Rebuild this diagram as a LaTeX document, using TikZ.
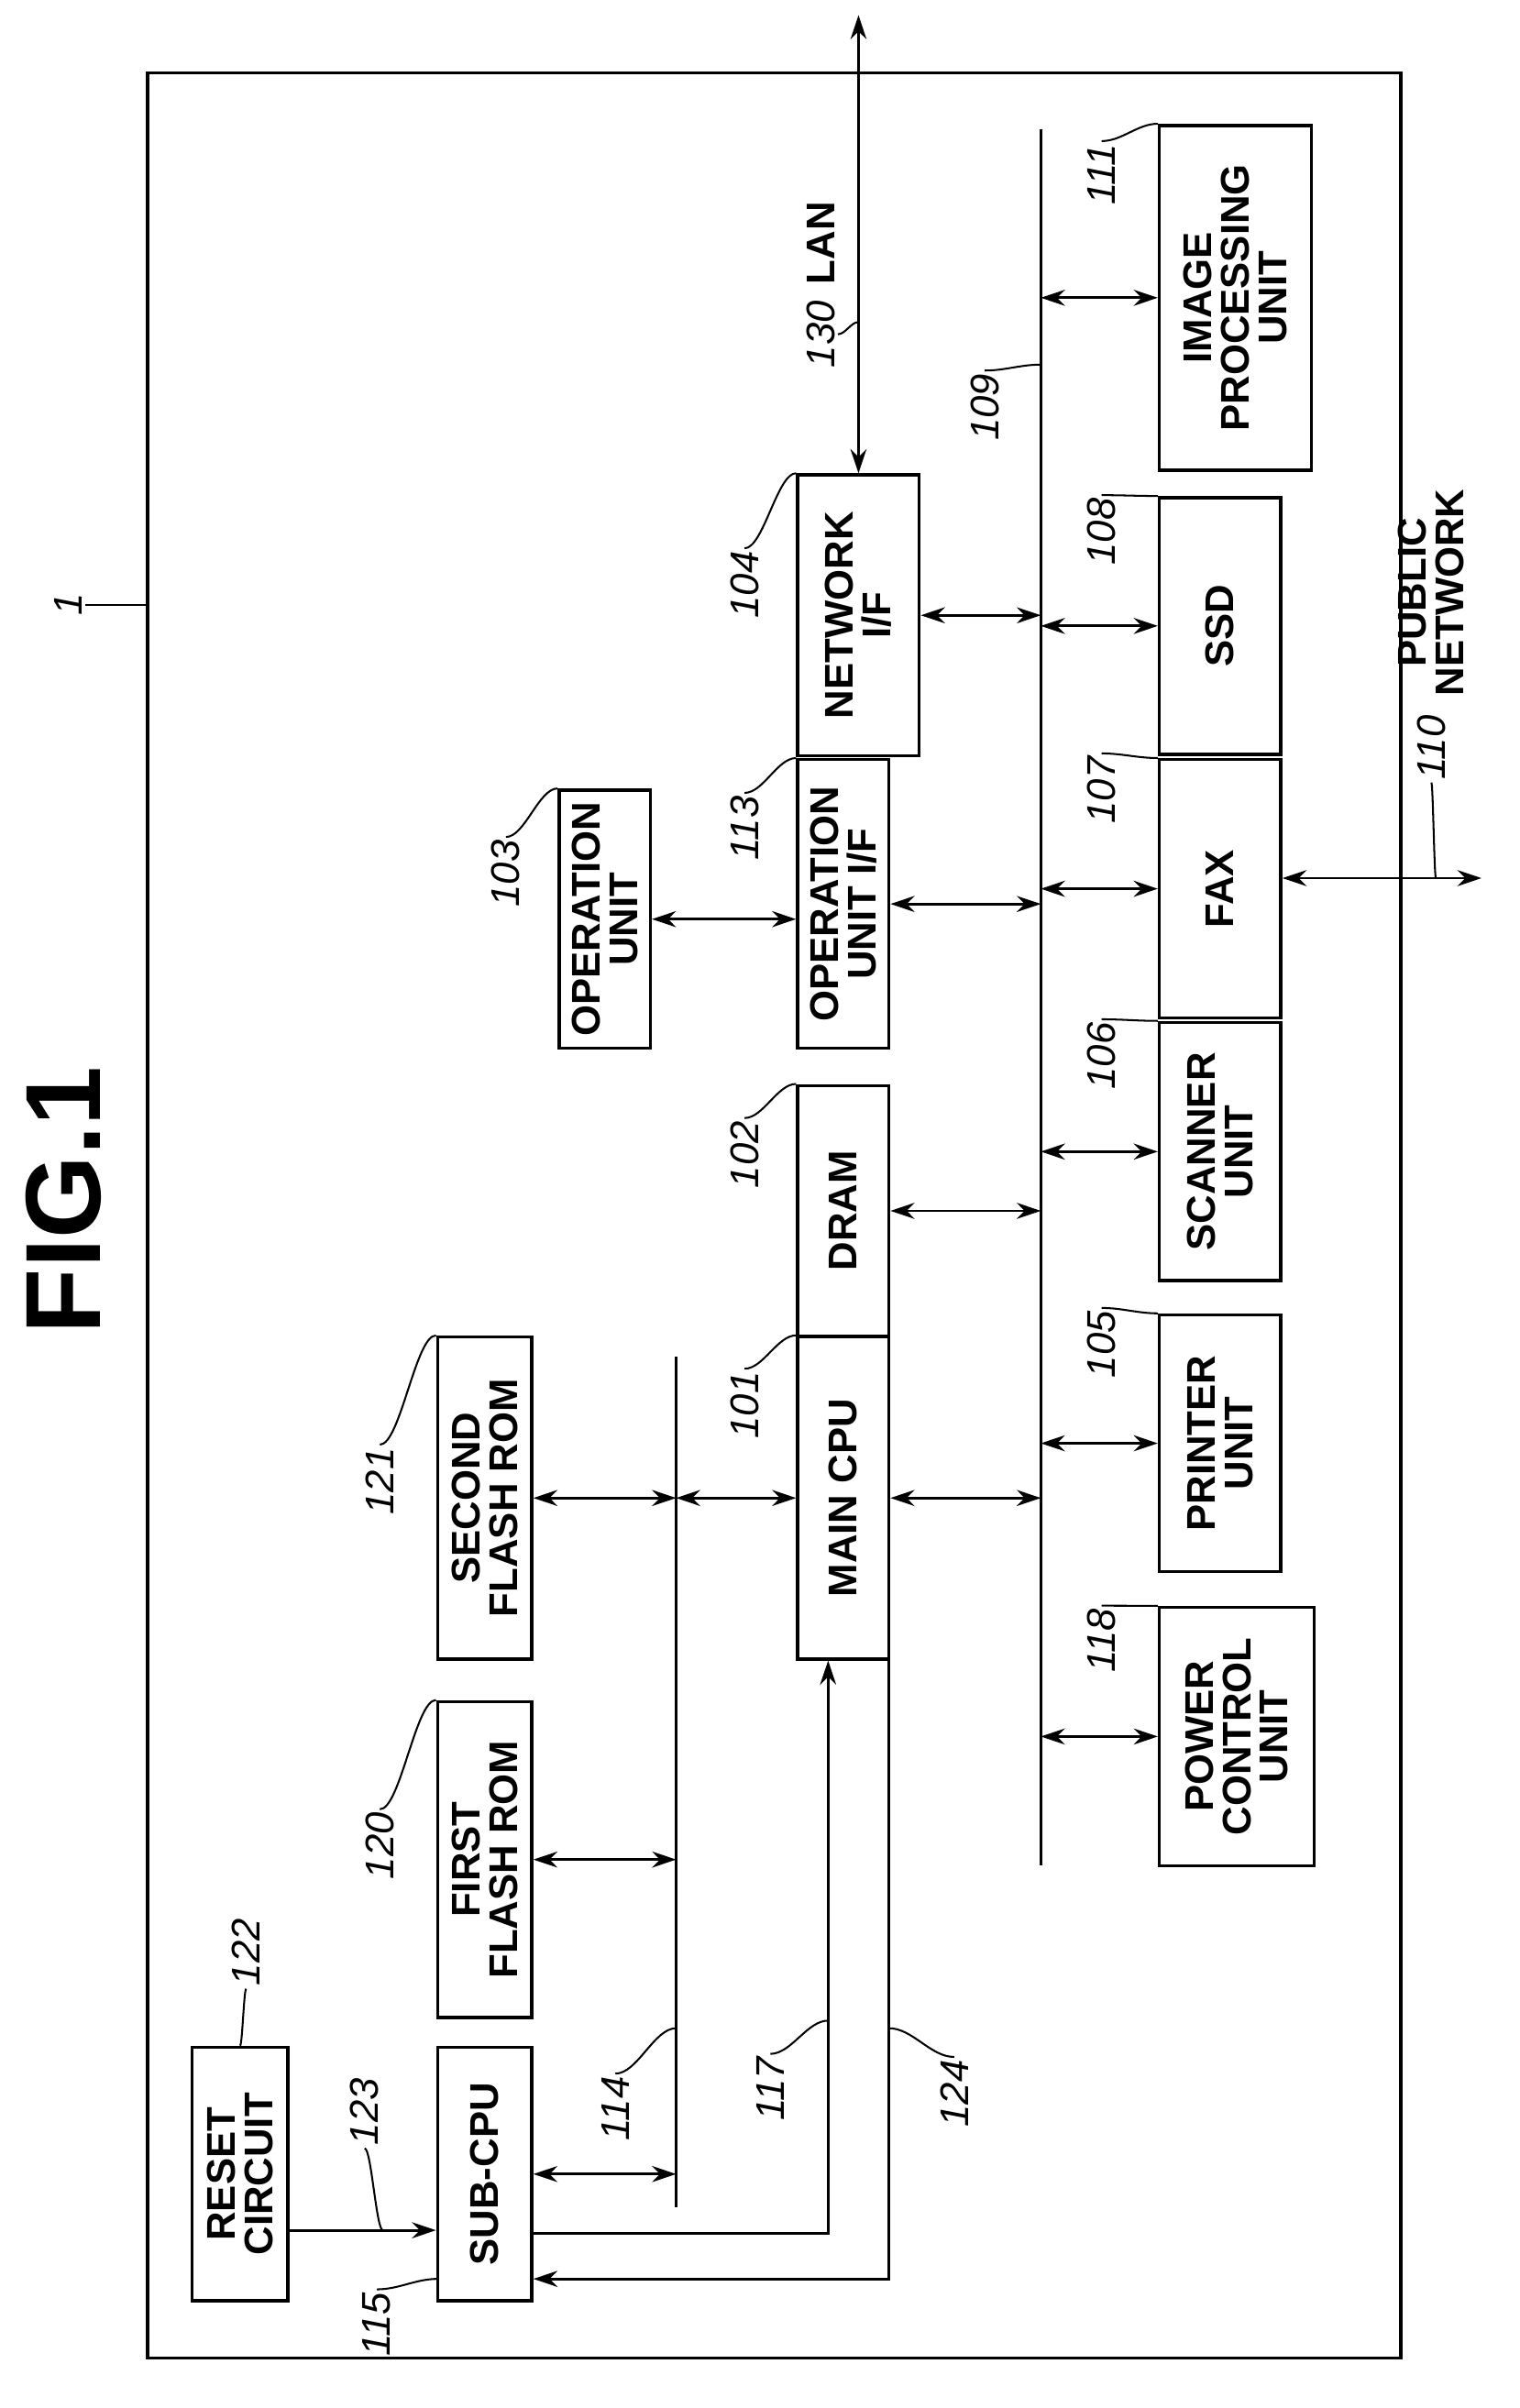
\documentclass[tikz,border=0pt]{standalone}
\usepackage{fontspec}
\setmainfont{Liberation Sans}
\usetikzlibrary{positioning, arrows.meta, calc}
\newcommand\boxfont{\bfseries\fontsize{15}{14}\selectfont}
\newcommand\labfont{\itshape\fontsize{15}{15}\selectfont}
\newcommand\leadline[2]{\draw[lead] (#1) cos ($(#1)!0.5!(#2)$) sin (#2);}
\tikzset{
	box/.style={draw, line width=1.2pt, rotate=90, font=\boxfont, align=center, inner sep=1pt},
	lab/.style={rotate=90, font=\labfont, inner sep=1pt},
	ar/.style={-{Stealth[length=9pt,width=6pt]}, line width=1pt},
	dar/.style={{Stealth[length=9pt,width=6pt]}-{Stealth[length=9pt,width=6pt]}, line width=1pt},
	lead/.style={line width=0.7pt},
}
\begin{document}
\begin{tikzpicture}[x=0.02cm, y=-0.02cm]
	\useasboundingbox (0,0) rectangle (1000,1585);
	\draw[line width=1.2pt] (97,48) rectangle (922,1552);
	\node[rotate=90, font=\bfseries\fontsize{40}{40}\selectfont] (fig) at (42,790) {FIG.1};

	% boxes
	\node[box, minimum width=3.34cm, minimum height=1.26cm] (reset) at (158,1431) {RESET\\CIRCUIT};
	\node[box, minimum width=3.34cm, minimum height=1.24cm] (subcpu) at (319,1431) {SUB-CPU};
	\node[box, minimum width=4.16cm, minimum height=1.24cm] (flash1) at (319,1224) {FIRST\\FLASH ROM};
	\node[box, minimum width=4.24cm, minimum height=1.24cm] (flash2) at (319,986) {SECOND\\FLASH ROM};
	\node[box, minimum width=4.24cm, minimum height=1.2cm] (main) at (555,986) {MAIN CPU};
	\node[box, minimum width=3.3cm, minimum height=1.2cm] (dram) at (555,797) {DRAM};
	\node[box, minimum width=3.4cm, minimum height=1.2cm] (opu) at (398,605) {OPERATION\\UNIT};
	\node[box, minimum width=3.8cm, minimum height=1.2cm] (opif) at (555,595) {OPERATION\\UNIT I/F};
	\node[box, minimum width=3.7cm, minimum height=1.6cm] (netif) at (565,405) {NETWORK\\I/F};
	\node[box, minimum width=3.4cm, minimum height=2.04cm] (power) at (814,1143) {POWER\\CONTROL\\UNIT};
	\node[box, minimum width=3.38cm, minimum height=1.6cm] (printer) at (803,950) {PRINTER\\UNIT};
	\node[box, minimum width=3.4cm, minimum height=1.6cm] (scanner) at (803,758) {SCANNER\\UNIT};
	\node[box, minimum width=3.4cm, minimum height=1.6cm] (fax) at (803,585) {FAX};
	\node[box, minimum width=3.38cm, minimum height=1.6cm] (ssd) at (803,412) {SSD};
	\node[box, minimum width=4.54cm, minimum height=2cm] (imgp) at (813,196) {IMAGE\\PROCESSING\\UNIT};

	% buses
	\coordinate (b109) at (685,85);
	\coordinate (b109e) at (685,1228);
	\coordinate (b114) at (445,893);
	\coordinate (b114e) at (445,1453);
	\draw[line width=1.2pt] (b109) -- (b109e);
	\draw[line width=1.2pt] (b114) -- (b114e);

	% connections
	\draw[dar] (subcpu.south) -- (subcpu.south -| b114);
	\draw[dar] (flash1.south) -- (flash1.south -| b114);
	\draw[dar] (flash2.south) -- (flash2.south -| b114);
	\draw[dar] (main.north -| b114) -- (main.north);
	\draw[dar] (main.south) -- (main.south -| b109);
	\draw[dar] (dram.south) -- (dram.south -| b109);
	\draw[dar] (opu.south) -- (opu.south -| opif.north);
	\draw[dar] (opif.south) -- (opif.south -| b109);
	\draw[dar] (netif.south) -- (netif.south -| b109);
	\foreach \n in {power, printer, scanner, fax, ssd, imgp}
		\draw[dar] (\n.north -| b109) -- (\n.north);

	\coordinate (c123) at (0,1468);
	\draw[ar] (reset.south |- c123) -- (subcpu.north |- c123);
	\coordinate (c117) at (545,1470);
	\draw[ar] (subcpu.south |- c117) -- (c117) -- (c117 |- main.west);
	\coordinate (c124) at (585,1500);
	\draw[ar] (c124 |- main.west) -- (c124) -- (subcpu.south |- c124);

	\coordinate (lanend) at (565,10);
	\draw[dar] (netif.east) -- (lanend);
	\coordinate (pubend) at (975,578);
	\draw[dar] (fax.south |- pubend) -- (pubend);

	% reference labels
	\node[lab] (l1) at (45,398) {1};
	\coordinate (t1) at (97,398);
	\leadline{l1.south}{t1}
	\node[lab] (l122) at (162,1285) {122};
	\leadline{l122.west}{reset.east}
	\node[lab] (l123) at (240,1390) {123};
	\coordinate (t123) at (252,1468);
	\leadline{l123.west}{t123}
	\node[lab] (l115) at (248,1530) {115};
	\coordinate (t115) at (288,1500);
	\leadline{l115.east}{t115}
	\node[lab] (l114) at (405,1388) {114};
	\coordinate (t114) at (445,1335);
	\leadline{l114.east}{t114}
	\node[lab] (l120) at (250,1215) {120};
	\leadline{l120.east}{flash1.north east}
	\node[lab] (l121) at (250,975) {121};
	\leadline{l121.east}{flash2.north east}
	\node[lab] (l101) at (490,925) {101};
	\leadline{l101.east}{main.north east}
	\node[lab] (l102) at (490,760) {102};
	\leadline{l102.east}{dram.north east}
	\node[lab] (l103) at (333,575) {103};
	\leadline{l103.east}{opu.north east}
	\node[lab] (l113) at (490,545) {113};
	\leadline{l113.east}{opif.north east}
	\node[lab] (l104) at (490,385) {104};
	\leadline{l104.east}{netif.north east}
	\node[lab] (l109) at (648,268) {109};
	\coordinate (t109) at (685,240);
	\leadline{l109.east}{t109}
	\node[lab] (l111) at (725,115) {111};
	\leadline{l111.east}{imgp.north east}
	\node[lab] (l108) at (725,350) {108};
	\leadline{l108.east}{ssd.north east}
	\node[lab] (l107) at (725,520) {107};
	\leadline{l107.east}{fax.north east}
	\node[lab] (l106) at (725,695) {106};
	\leadline{l106.east}{scanner.north east}
	\node[lab] (l105) at (725,885) {105};
	\leadline{l105.east}{printer.north east}
	\node[lab] (l118) at (725,1080) {118};
	\leadline{l118.east}{power.north east}
	\node[lab] (l117) at (507,1375) {117};
	\coordinate (t117) at (545,1330);
	\leadline{l117.east}{t117}
	\node[lab] (l124) at (628,1378) {124};
	\coordinate (t124) at (585,1335);
	\leadline{l124.east}{t124}
	\node[lab] (l130) at (540,220) {130};
	\node[rotate=90, font=\boxfont, inner sep=1pt] (lan) at (540,160) {LAN};
	\coordinate (t130) at (565,212);
	\leadline{l130.south}{t130}
	\node[lab] (l110) at (942,492) {110};
	\node[rotate=90, font=\boxfont, align=center, inner sep=1pt] (pub) at (942,390) {PUBLIC\\NETWORK};
	\coordinate (t110) at (945,578);
	\leadline{l110.west}{t110}
\end{tikzpicture}
\end{document}
